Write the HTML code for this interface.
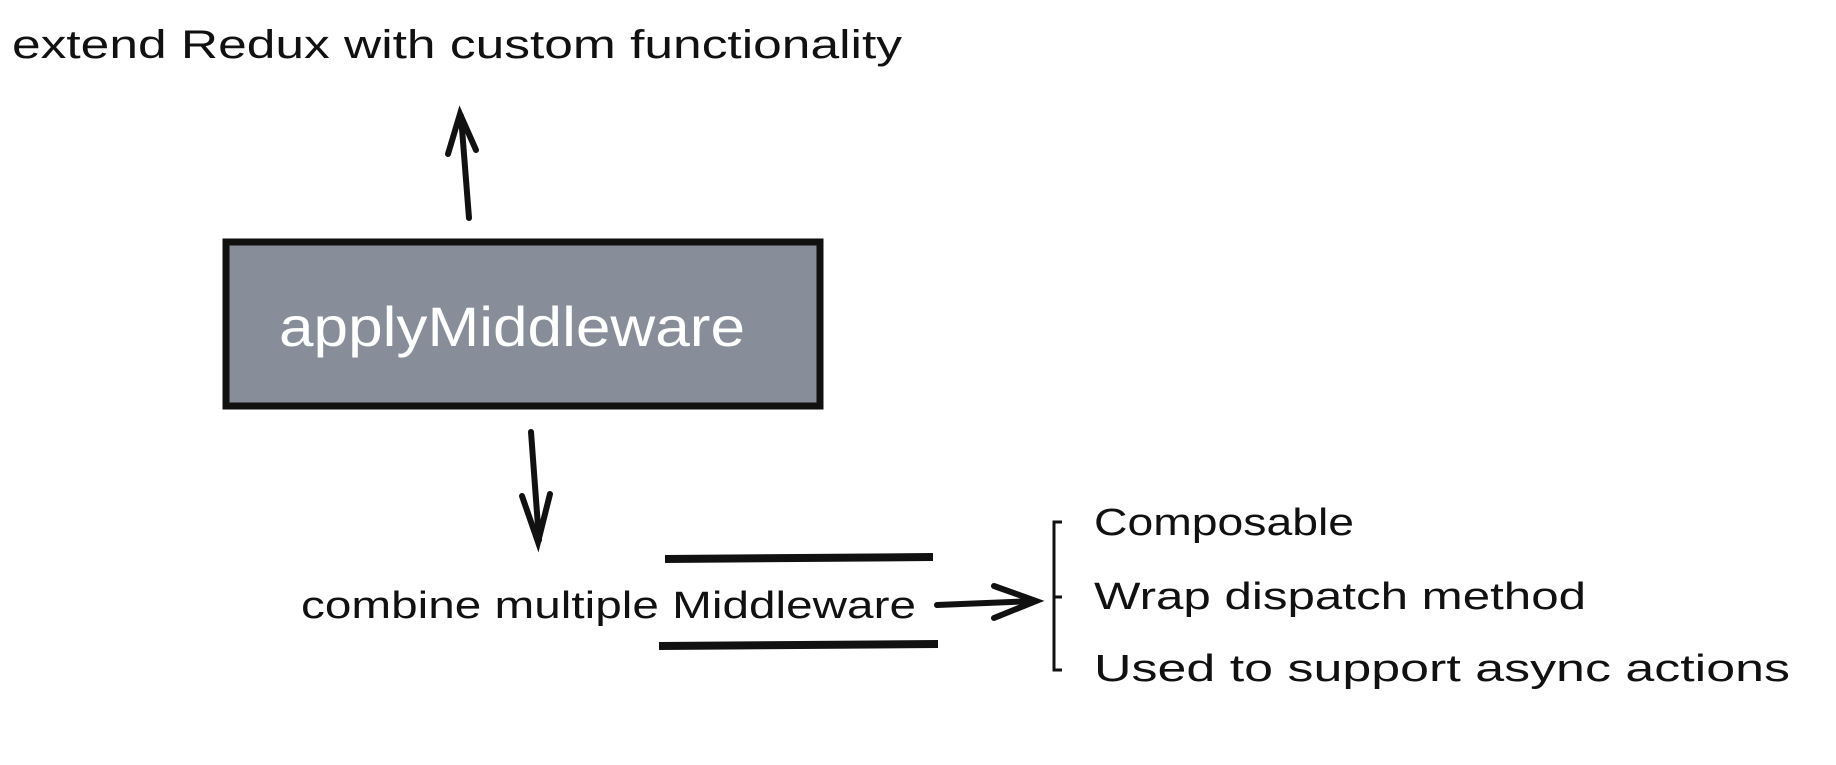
<!DOCTYPE html>
<html><head><meta charset="utf-8"><style>
html,body{margin:0;padding:0;background:#fff;width:1836px;height:765px;overflow:hidden}
text{font-family:"Liberation Sans",sans-serif}
</style></head><body>
<svg width="1836" height="765" viewBox="0 0 1836 765" xmlns="http://www.w3.org/2000/svg">
<text x="12" y="58" font-size="40" textLength="890" lengthAdjust="spacingAndGlyphs" fill="#111">extend Redux with custom functionality</text>
<g stroke="#111" stroke-width="6" fill="none" stroke-linecap="round">
<line x1="469" y1="218" x2="461" y2="116"/>
<polyline points="448,154 460,114 476,150"/>
<line x1="531" y1="432" x2="539" y2="540"/>
<polyline points="522,496 538,542 550,494"/>
<line x1="937" y1="605" x2="1034" y2="601"/>
<polyline points="994,586 1036,601 994,618"/>
</g>
<rect x="226" y="242" width="594" height="164" fill="#878e99" stroke="#111" stroke-width="7"/>
<text x="512" y="346" font-size="56" text-anchor="middle" textLength="466" lengthAdjust="spacingAndGlyphs" fill="#fff">applyMiddleware</text>
<text x="301" y="618" font-size="38" textLength="615" lengthAdjust="spacingAndGlyphs" fill="#111">combine multiple Middleware</text>
<line x1="665" y1="559" x2="933" y2="557" stroke="#111" stroke-width="8"/>
<line x1="659" y1="646" x2="938" y2="644" stroke="#111" stroke-width="8"/>
<polyline points="1062,522 1054,522 1054,670 1062,670" fill="none" stroke="#111" stroke-width="3"/>
<line x1="1054" y1="597" x2="1062" y2="597" stroke="#111" stroke-width="3"/>
<text x="1094" y="535" font-size="38" textLength="260" lengthAdjust="spacingAndGlyphs" fill="#111">Composable</text>
<text x="1094" y="609" font-size="38" textLength="492" lengthAdjust="spacingAndGlyphs" fill="#111">Wrap dispatch method</text>
<text x="1094" y="681" font-size="38" textLength="696" lengthAdjust="spacingAndGlyphs" fill="#111">Used to support async actions</text>
</svg>
</body></html>
